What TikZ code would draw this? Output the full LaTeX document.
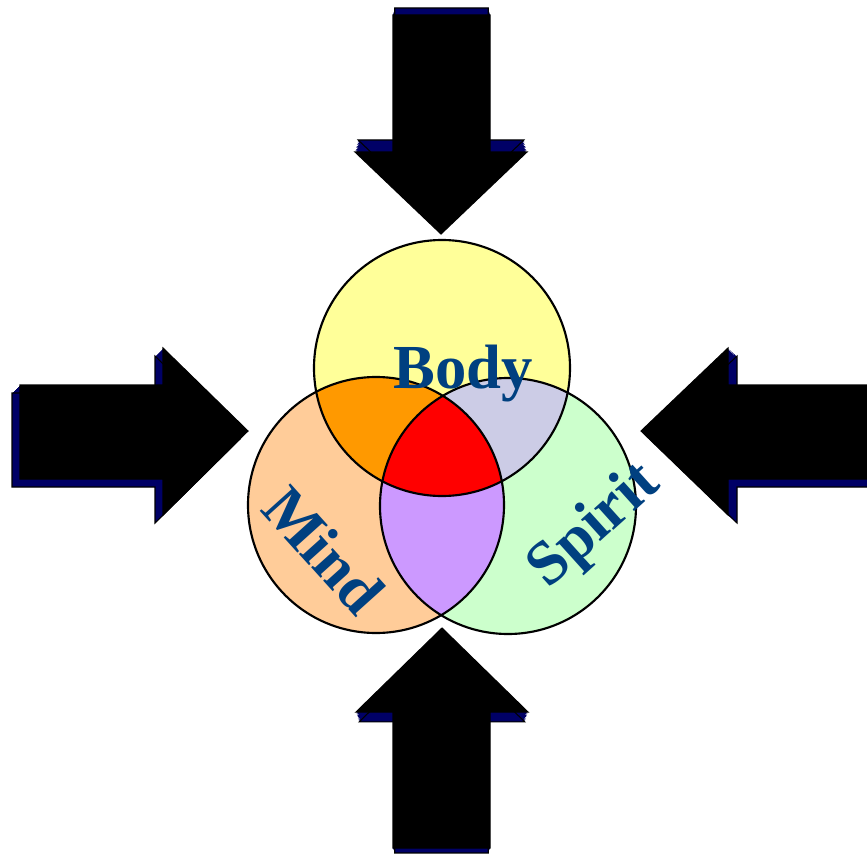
\documentclass[tikz,border=0pt]{standalone}
\usepackage{fontspec}
\setmainfont{Liberation Serif}
\usepackage{tikz}
\definecolor{bodyY}{HTML}{FFFF99}
\definecolor{mindO}{HTML}{FFCC99}
\definecolor{spiritG}{HTML}{CCFFCC}
\definecolor{bodyMind}{HTML}{FF9900}
\definecolor{bodySpirit}{HTML}{CCCCE6}
\definecolor{mindSpirit}{HTML}{CC99FF}
\definecolor{allThree}{HTML}{FF0000}
\definecolor{lblBlue}{HTML}{004080}
\definecolor{arrNavy}{HTML}{000066}

\begin{document}
\begin{tikzpicture}[x=0.75pt, y=-0.75pt,
  lbl/.style={text=lblBlue, font=\fontsize{47}{50}\selectfont\bfseries, inner sep=0pt},
  ring/.style={draw=black, line width=1.6pt},
  face/.style={fill=black, draw=black, line width=0.8pt}]
  \clip (0,0) rectangle (867,856);

  \coordinate (cB) at (442,368);
  \coordinate (cM) at (376,505);
  \coordinate (cS) at (508,506);

  % circle fills
  \fill[bodyY] (cB) circle (96pt);
  \fill[mindO] (cM) circle (96pt);
  \fill[spiritG] (cS) circle (96pt);

  % pairwise overlaps
  \begin{scope}
    \clip (cB) circle (96pt);
    \fill[bodyMind] (cM) circle (96pt);
    \fill[bodySpirit] (cS) circle (96pt);
  \end{scope}
  \begin{scope}
    \clip (cM) circle (96pt);
    \fill[mindSpirit] (cS) circle (96pt);
  \end{scope}
  % centre: all three
  \begin{scope}
    \clip (cB) circle (96pt);
    \clip (cM) circle (96pt);
    \fill[allThree] (cS) circle (96pt);
  \end{scope}

  \foreach \c in {cB,cM,cS}{
    \draw[ring] (\c) circle (96pt);
  }

  \node[lbl, anchor=base] (body) at (463,388) {Body};
  \node[lbl, rotate=-48] (mind) at (324,550) {Mind};
  \node[lbl, rotate=42] (spirit) at (595,527) {Spirit};

  % top and bottom arrows: depth swept towards a vanishing point
  \foreach \s in {0.9635,0.968,0.972,0.977,0.982,0.986,0.991,0.995}{
    \fill[arrNavy, shift={(441,-177)}, scale=\s, shift={(-441,177)}]
      (393,15) -- (490,15) -- (490,152) -- (527,152) -- (441,234)
      -- (355,152) -- (393,152) -- cycle;
    \fill[arrNavy, shift={(441,984)}, scale=\s, shift={(-441,-984)}]
      (393,848) -- (490,848) -- (490,712) -- (528,712) -- (442,628)
      -- (356,712) -- (393,712) -- cycle;
  }
  \draw[line width=0.8pt, shift={(441,-177)}, scale=0.9635, shift={(-441,177)}]
    (393,15) -- (490,15) -- (490,152) -- (527,152) -- (441,234)
    -- (355,152) -- (393,152) -- cycle;
  \draw[line width=0.8pt, shift={(441,984)}, scale=0.9635, shift={(-441,-984)}]
    (393,848) -- (490,848) -- (490,712) -- (528,712) -- (442,628)
    -- (356,712) -- (393,712) -- cycle;
  \draw[face] (393,15) -- (490,15) -- (490,152) -- (527,152) -- (441,234)
    -- (355,152) -- (393,152) -- cycle;
  \draw[face] (393,848) -- (490,848) -- (490,712) -- (528,712) -- (442,628)
    -- (356,712) -- (393,712) -- cycle;

  % left and right arrows: depth swept down and outwards
  \foreach \t in {8,...,1}{
    \fill[arrNavy, shift={(-\t,\t)}]
      (20,385) -- (163,385) -- (163,348) -- (248,431) -- (163,515)
      -- (163,479) -- (20,479) -- cycle;
    \fill[arrNavy, shift={(1.125*\t,\t)}]
      (890,385) -- (728,385) -- (728,348) -- (641,431) -- (728,515)
      -- (728,479) -- (890,479) -- cycle;
  }
  \draw[line width=0.8pt, shift={(-8,8)}]
    (20,385) -- (163,385) -- (163,348) -- (248,431) -- (163,515)
    -- (163,479) -- (20,479) -- cycle;
  \draw[line width=0.8pt, shift={(9,8)}]
    (890,385) -- (728,385) -- (728,348) -- (641,431) -- (728,515)
    -- (728,479) -- (890,479) -- cycle;
  \draw[face] (20,385) -- (163,385) -- (163,348) -- (248,431) -- (163,515)
    -- (163,479) -- (20,479) -- cycle;
  \draw[face] (890,385) -- (728,385) -- (728,348) -- (641,431) -- (728,515)
    -- (728,479) -- (890,479) -- cycle;
\end{tikzpicture}
\end{document}
